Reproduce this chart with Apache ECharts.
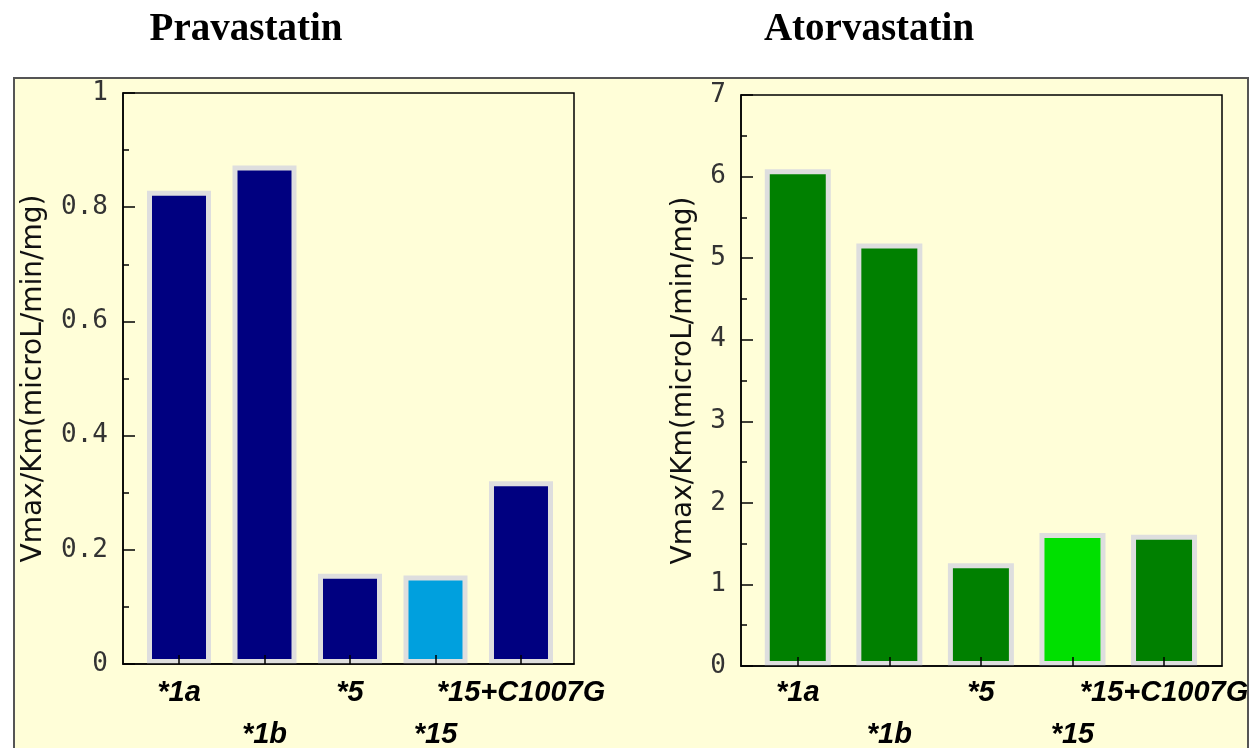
<!DOCTYPE html>
<html>
<head>
<meta charset="utf-8">
<title>Vmax/Km by OATP1B1 variant</title>
<script src="https://cdn.jsdelivr.net/npm/echarts@6/dist/echarts.min.js"></script>
<style>
  html, body { margin: 0; padding: 0; background: #ffffff; }
  #frame {
    position: absolute; left: 13px; top: 77px; width: 1232px; height: 700px;
    border: 2px solid #555; background: #fffed8;
  }
  #chart { position: absolute; left: 0; top: 0; width: 1252px; height: 748px; }
</style>
</head>
<body>
<div id="frame"></div>
<div id="chart"></div>
<script>
// Variant labels shared by both panels
const categories = ['*1a', '*1b', '*5', '*15', '*15+C1007G'];

// Vmax/Km (microL/min/mg) per variant
const pravastatin = [0.829, 0.873, 0.158, 0.155, 0.320];
const atorvastatin = [6.09, 5.18, 1.26, 1.63, 1.61];

// Index of the variant drawn in the brighter shade
const highlightIndex = 3;

const yName = 'Vmax/Km(microL/min/mg)';

function buildPanel(i, cfg) {
  const all = categories.map((_, k) => k);
  const even = all.filter(k => k % 2 === 0);
  const odd = all.filter(k => k % 2 === 1);
  const axisStroke = { color: '#000', width: 1.5 };
  const labelFont = {
    fontFamily: 'Liberation Sans', fontWeight: 'bold', fontStyle: 'italic',
    fontSize: 29, color: '#000',
    showMinLabel: true, showMaxLabel: true, hideOverlap: false,
    formatter: v => categories[Math.round(v)]
  };
  // Main axis: line, ticks at every variant, first row of labels
  const mainX = {
    gridIndex: i, type: 'value', position: 'bottom', offset: 0,
    min: cfg.xMin, max: cfg.xMax, z: 5,
    axisLine: { show: true, onZero: false, lineStyle: axisStroke },
    splitLine: { show: false },
    axisTick: { show: true, inside: true, length: 9, customValues: all, lineStyle: axisStroke },
    axisLabel: Object.assign({ customValues: even, margin: cfg.xLabelMargin }, labelFont)
  };
  // Companion axis: second, staggered row of labels
  const rowX = {
    gridIndex: i, type: 'value', position: 'bottom', offset: 0,
    min: cfg.xMin, max: cfg.xMax, z: 5,
    axisLine: { show: false, onZero: false },
    splitLine: { show: false },
    axisTick: { show: false },
    axisLabel: Object.assign({ customValues: odd, margin: cfg.xLabelMargin + 42 }, labelFont)
  };
  return {
    grid: {
      left: cfg.left, top: cfg.top, width: cfg.width, height: cfg.height,
      outerBoundsMode: 'none', containLabel: false,
      show: true, borderColor: '#000', borderWidth: 1.5,
      backgroundColor: 'transparent'
    },
    xAxes: [mainX, rowX],
    yAxis: {
      gridIndex: i, type: 'value', min: 0, max: cfg.yMax, interval: cfg.yStep, z: 5,
      axisLine: { show: true, onZero: false, lineStyle: axisStroke },
      axisTick: { show: true, inside: true, length: 12, lineStyle: axisStroke },
      minorTick: { show: true, splitNumber: 2, length: 6, lineStyle: axisStroke },
      splitLine: { show: false },
      axisLabel: { margin: 15, fontFamily: 'DejaVu Sans Mono', fontSize: 26, color: '#333' },
      name: yName, nameLocation: 'middle', nameGap: cfg.nameGap,
      nameTextStyle: { fontFamily: 'DejaVu Sans', fontSize: 28, color: '#111' }
    },
    series: {
      type: 'bar', xAxisIndex: i * 2, yAxisIndex: i,
      barWidth: cfg.barWidth, clip: true,
      itemStyle: { borderColor: '#dedede', borderWidth: 5 },
      data: cfg.values.map((v, k) => ({
        value: [k, v],
        itemStyle: { color: k === highlightIndex ? cfg.highlight : cfg.color }
      }))
    }
  };
}

const left = buildPanel(0, {
  left: 123, top: 93, width: 451, height: 571,
  xMin: -0.655, xMax: 4.62, xLabelMargin: 14,
  yMax: 1, yStep: 0.2, nameGap: 75, barWidth: 64,
  values: pravastatin, color: '#000080', highlight: '#00a0de'
});
const right = buildPanel(1, {
  left: 741, top: 95, width: 481, height: 571,
  xMin: -0.62, xMax: 4.633, xLabelMargin: 12,
  yMax: 7, yStep: 1, nameGap: 43, barWidth: 66,
  values: atorvastatin, color: '#008000', highlight: '#00e000'
});

const titleStyle = { fontFamily: 'Liberation Serif', fontWeight: 'bold', fontSize: 39, color: '#000' };

const chart = echarts.init(document.getElementById('chart'), null, { renderer: 'canvas' });
chart.setOption({
  animation: false,
  backgroundColor: 'transparent',
  title: [
    { text: 'Pravastatin', left: 246, top: 10, textAlign: 'center', padding: 0, textStyle: titleStyle },
    { text: 'Atorvastatin', left: 869, top: 10, textAlign: 'center', padding: 0, textStyle: titleStyle }
  ],
  grid: [left.grid, right.grid],
  xAxis: left.xAxes.concat(right.xAxes),
  yAxis: [left.yAxis, right.yAxis],
  series: [left.series, right.series]
});
</script>
</body>
</html>
